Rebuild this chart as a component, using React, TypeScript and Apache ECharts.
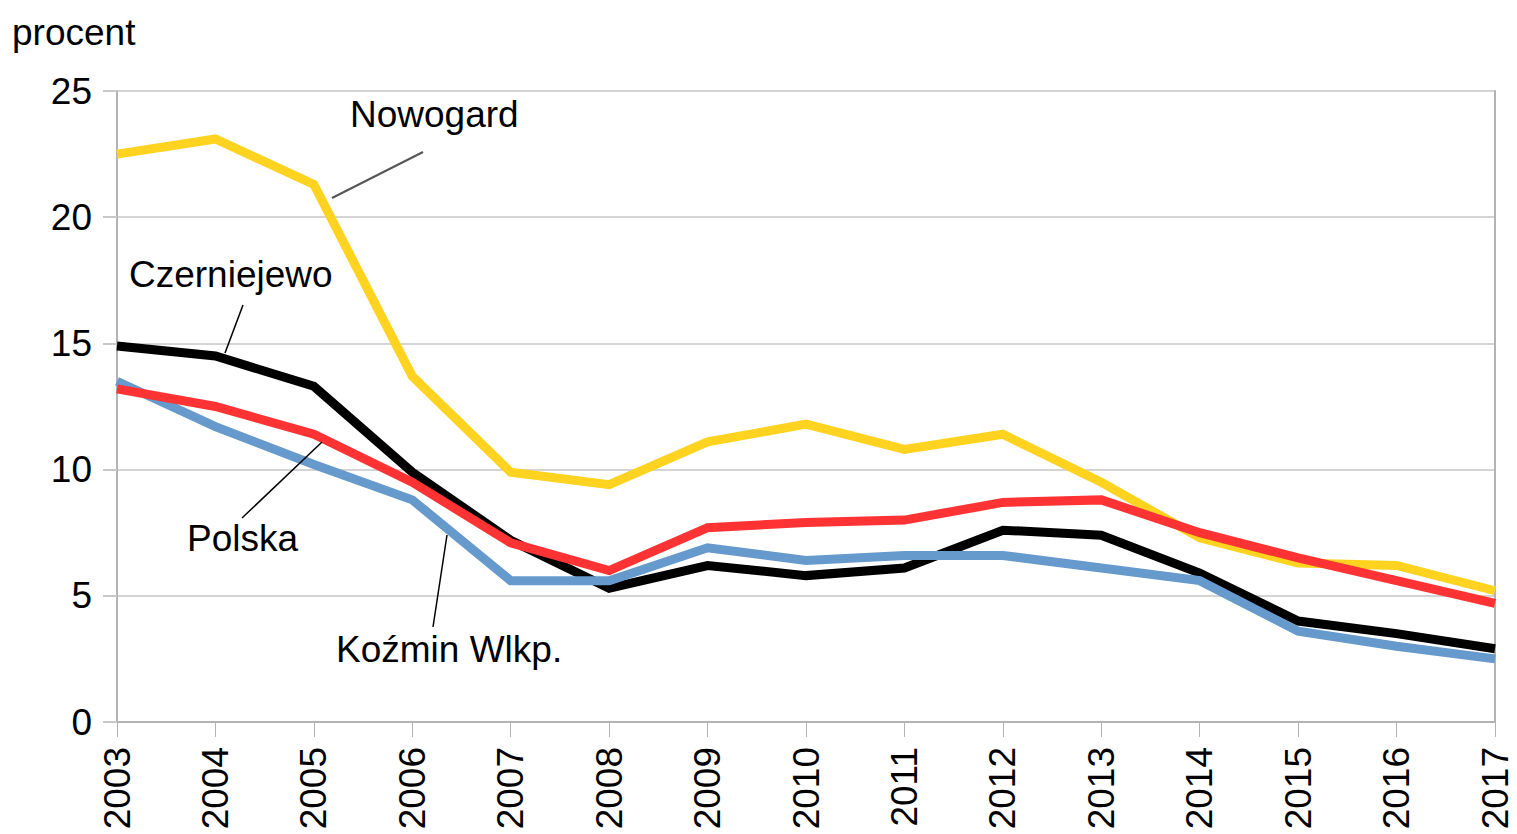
import React, { useEffect, useRef } from "react";
import * as echarts from "echarts";

const years = ["2003","2004","2005","2006","2007","2008","2009","2010","2011","2012","2013","2014","2015","2016","2017"];
const nowogard = [22.5, 23.1, 21.3, 13.7, 9.9, 9.4, 11.1, 11.8, 10.8, 11.4, 9.5, 7.3, 6.3, 6.2, 5.2];
const czerniejewo = [14.9, 14.5, 13.3, 9.9, 7.2, 5.3, 6.2, 5.8, 6.1, 7.6, 7.4, 5.9, 4.0, 3.5, 2.9];
const polska = [13.2, 12.5, 11.4, 9.5, 7.1, 6.0, 7.7, 7.9, 8.0, 8.7, 8.8, 7.5, 6.5, 5.6, 4.7];
const kozmin = [13.5, 11.7, 10.2, 8.8, 5.6, 5.6, 6.9, 6.4, 6.6, 6.6, 6.1, 5.6, 3.6, 3.0, 2.5];
const yTicks = [0, 5, 10, 15, 20, 25];

const FONT = "'Liberation Sans', Arial, sans-serif";
const FS = 37;

export default function App() {
  const ref = useRef<HTMLDivElement>(null);
  useEffect(() => {
    if (!ref.current) return;
    const chart = echarts.init(ref.current, undefined, { renderer: "svg" });
    const lineSeries = (name: string, data: number[], color: string) => ({
      name,
      type: "line",
      data,
      symbol: "none",
      lineStyle: { color, width: 9, join: "miter" },
      itemStyle: { color },
    });
    const label = (text: string, x: number, y: number) => ({
      type: "text",
      x,
      y,
      style: { text, fill: "#000", font: `${FS}px ${FONT}`, textVerticalAlign: "middle", verticalAlign: "middle" },
      z: 100,
    });
    const leader = (x1: number, y1: number, x2: number, y2: number, color: string, w: number) => ({
      type: "line",
      shape: { x1, y1, x2, y2 },
      style: { stroke: color, lineWidth: w },
      z: 100,
    });
    chart.setOption({
      animation: false,
      backgroundColor: "#fff",
      grid: { left: 117, right: 22, top: 91, bottom: 112, containLabel: false },
      xAxis: {
        type: "category",
        data: years,
        boundaryGap: false,
        axisLine: { show: true, lineStyle: { color: "#b3b3b3", width: 2 } },
        axisTick: { show: true, length: 15, alignWithLabel: true, lineStyle: { color: "#b3b3b3", width: 1 } },
        axisLabel: { rotate: 90, margin: 25, color: "#000", fontSize: FS, fontFamily: FONT },
        splitLine: { show: false },
      },
      yAxis: [
        {
          type: "value",
          min: 0,
          max: 25,
          interval: 5,
          axisLine: { show: true, lineStyle: { color: "#b3b3b3", width: 2 } },
          axisTick: { show: true, length: 14, lineStyle: { color: "#c8c8c8", width: 2 } },
          axisLabel: {
            margin: 25,
            color: "#000",
            fontSize: FS,
            fontFamily: FONT,
            formatter: (v: number) => (yTicks.includes(v) ? String(v) : ""),
          },
          splitLine: { show: true, lineStyle: { color: "#d4d4d4", width: 2 } },
        },
        {
          type: "value",
          position: "right",
          min: 0,
          max: 25,
          interval: 5,
          axisLine: { show: true, lineStyle: { color: "#b3b3b3", width: 2 } },
          axisTick: { show: false },
          axisLabel: { show: false },
          splitLine: { show: false },
        },
      ],
      series: [
        lineSeries("Nowogard", nowogard, "#ffd320"),
        lineSeries("Czerniejewo", czerniejewo, "#000000"),
        lineSeries("Koźmin Wlkp.", kozmin, "#6699cc"),
        lineSeries("Polska", polska, "#ff3333"),
      ],
      graphic: [
        label("procent", 12, 32),
        label("Nowogard", 350, 114),
        leader(423, 152, 332, 198, "#555555", 2),
        label("Czerniejewo", 129, 274),
        leader(243, 305, 225, 353, "#000000", 1.5),
        label("Polska", 187, 538),
        leader(242, 518, 322, 442, "#000000", 1.5),
        label("Koźmin Wlkp.", 336, 649),
        leader(433, 627, 447, 535, "#000000", 1.5),
      ],
    });
    return () => chart.dispose();
  }, []);
  return <div ref={ref} style={{ width: 1517, height: 834, position: "absolute", left: 0, top: 0 }} />;
}
